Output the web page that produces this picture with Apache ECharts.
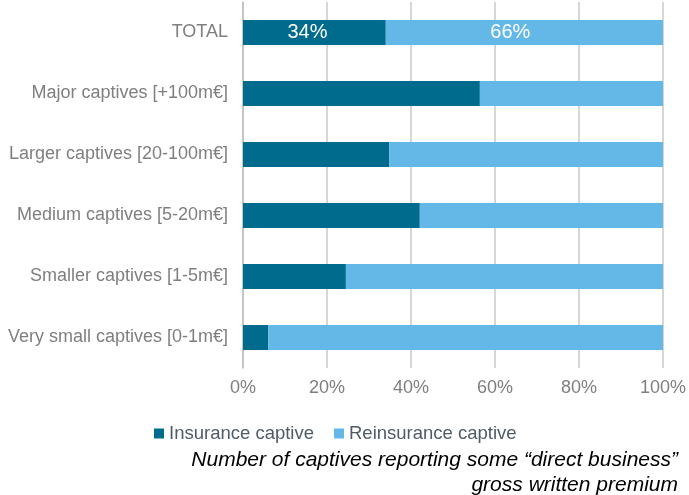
<!DOCTYPE html>
<html>
<head>
<meta charset="utf-8">
<script src="https://cdn.jsdelivr.net/npm/echarts@6/dist/echarts.min.js"></script>
<style>
  html, body { margin: 0; padding: 0; background: #fff; }
  #chart { width: 689px; height: 495px; }
</style>
</head>
<body>
<div id="chart"></div>
<script>
// categories, top to bottom
const categories = [
  'TOTAL',
  'Major captives [+100m€]',
  'Larger captives [20-100m€]',
  'Medium captives [5-20m€]',
  'Smaller captives [1-5m€]',
  'Very small captives [0-1m€]'
]

// share of captives (%)
const insurance = [34, 56.4, 34.8, 42.1, 24.5, 6]
const reinsurance = [66, 43.6, 65.2, 57.9, 75.5, 94]

const xTicks = [0, 20, 40, 60, 80, 100]

const captionLines = [
  'Number of captives reporting some \u201cdirect business\u201d',
  'gross written premium'
]

const FONT = '"Liberation Sans", Arial, sans-serif'

const chart = echarts.init(document.getElementById('chart'), null, { renderer: 'canvas' })

// only the TOTAL row shows its numbers
const withLabels = arr => arr.map((v, i) => (i === 0 ? { value: v, label: { show: true } } : v))

const option = {
  animation: false,
  textStyle: { fontFamily: FONT },
  grid: { left: 243, right: 26, top: 2, bottom: 127 },
  legend: {
    left: 149,
    top: 419,
    itemWidth: 10,
    itemHeight: 10,
    itemGap: 20,
    icon: 'rect',
    textStyle: { color: '#4f5b66', fontSize: 18.5, fontFamily: FONT },
    data: ['Insurance captive', 'Reinsurance captive']
  },
  xAxis: {
    type: 'value',
    min: xTicks[0],
    max: xTicks[xTicks.length - 1],
    interval: 20,
    axisLine: { show: false },
    axisTick: { show: false },
    axisLabel: { color: '#7f7f7f', fontSize: 18, margin: 11, formatter: '{value}%' },
    splitLine: { show: true, lineStyle: { color: '#c8c8c8', width: 1.5 } }
  },
  yAxis: {
    type: 'category',
    inverse: true,
    data: categories,
    axisLine: { show: true, lineStyle: { color: '#bfbfbf', width: 1.5 } },
    axisTick: { show: false },
    axisLabel: { color: '#7f7f7f', fontSize: 18, margin: 15 }
  },
  series: [
    {
      name: 'Insurance captive',
      type: 'bar',
      stack: 'all',
      barWidth: 25,
      itemStyle: { color: '#006b8d' },
      label: { show: false, position: 'inside', offset: [-7, 0], color: '#fff', fontSize: 20, formatter: '{c}%' },
      data: withLabels(insurance)
    },
    {
      name: 'Reinsurance captive',
      type: 'bar',
      stack: 'all',
      barWidth: 25,
      itemStyle: { color: '#63b8e8' },
      label: { show: false, position: 'inside', offset: [-14, 0], color: '#fff', fontSize: 20, formatter: '{c}%' },
      data: withLabels(reinsurance)
    }
  ],
  graphic: captionLines.map((line, i) => ({
    type: 'text',
    right: 11,
    top: 450 + i * 25,
    style: {
      text: line,
      fill: '#000',
      font: 'italic 21px ' + FONT
    }
  }))
}

chart.setOption(option)
</script>
</body>
</html>
